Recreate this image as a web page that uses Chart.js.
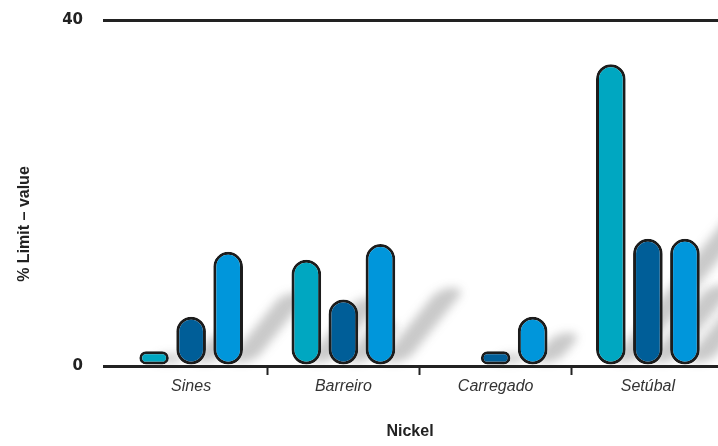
<!DOCTYPE html>
<html><head><meta charset="utf-8">
<script src="https://cdn.jsdelivr.net/npm/chart.js@4"></script>
<style>
html,body{margin:0;padding:0;background:#fff;overflow:hidden;width:718px;height:446px;}
#wrap{position:relative;width:724px;height:446px;}
</style></head>
<body><div id="wrap"><canvas id="c"></canvas></div>
<script>
const categories = ['Sines', 'Barreiro', 'Carregado', 'Setúbal'];
const seriesA = [1.7, 12.3, null, 34.9];
const seriesB = [5.7, 7.7, 1.7, 14.7];
const seriesC = [13.2, 14.1, 5.7, 14.7];
const yTicks = [0, 40];
const yTitle = '% Limit – value';
const xTitle = 'Nickel';

const colors = ['#00a7c1', '#005e98', '#0096db'];

const shadowPlugin = {
  id: 'barShadows',
  beforeDatasetsDraw(chart) {
    const ctx = chart.ctx;
    ctx.save();
    ctx.filter = 'blur(5px)';
    chart.data.datasets.forEach((ds, i) => {
      const meta = chart.getDatasetMeta(i);
      meta.data.forEach(bar => {
        const p = bar.getProps(['x', 'y', 'base', 'width'], true);
        if (p.y == null || isNaN(p.y)) return;
        const h = p.base - p.y;
        if (h <= 0) return;
        const w = p.width * 0.9;
        ctx.setTransform(1, 0, -0.5, 0.62, p.x + 12, p.base - 2);
        const r = Math.min(w / 2, h / 2);
        ctx.beginPath();
        ctx.roundRect(-w / 2, -h, w, h, r);
        ctx.fillStyle = 'rgba(60,60,60,0.28)';
        ctx.fill();
      });
    });
    ctx.restore();
  }
};

const titlesPlugin = {
  id: 'axisTitles',
  afterDraw(chart) {
    const ctx = chart.ctx;
    ctx.save();
    ctx.font = 'bold 16px "Liberation Sans"';
    ctx.fillStyle = '#222';
    ctx.textAlign = 'center';
    ctx.textBaseline = 'middle';
    ctx.fillText(xTitle, 410, 432);
    ctx.translate(25, 224);
    ctx.rotate(-Math.PI / 2);
    ctx.fillText(yTitle, 0, 0);
    ctx.restore();
  }
};

new Chart(document.getElementById('c'), {
  type: 'bar',
  data: {
    labels: categories,
    datasets: [seriesA, seriesB, seriesC].map((d, i) => ({
      data: d,
      backgroundColor: colors[i],
      borderColor: '#1c1c1c',
      borderWidth: 3,
      borderRadius: 100,
      borderSkipped: false,
      barPercentage: 0.8,
      categoryPercentage: 0.73
    }))
  },
  options: {
    responsive: true,
    maintainAspectRatio: false,
    animation: false,
    devicePixelRatio: 1,
    layout: { padding: { top: 0, right: 0, bottom: 0, left: 0 } },
    plugins: { legend: { display: false }, tooltip: { enabled: false } },
    scales: {
      x: {
        afterFit: (s) => { s.height = 80; },
        border: { display: false },
        grid: {
          drawOnChartArea: false,
          drawTicks: true,
          tickLength: 9,
          tickWidth: 2,
          tickColor: (c) => (c.index === 0 ? 'rgba(0,0,0,0)' : '#222')
        },
        ticks: {
          color: '#333',
          padding: 2,
          font: { family: 'Liberation Sans', size: 16, style: 'italic' }
        },
        title: { display: false }
      },
      y: {
        min: 0,
        max: 40,
        afterBuildTicks: (s) => { s.ticks = yTicks.map(v => ({ value: v })); },
        afterFit: (s) => { s.width = 115; },
        border: { display: false },
        grid: {
          color: '#222',
          lineWidth: 3,
          drawTicks: true,
          tickLength: 12,
          tickColor: '#222',
          tickWidth: 3
        },
        ticks: {
          color: '#222',
          padding: 20,
          font: { family: 'DejaVu Sans', size: 15, weight: 'bold', lineHeight: 0.01 }
        },
        title: { display: false }
      }
    }
  },
  plugins: [shadowPlugin, titlesPlugin]
});
</script>
</body></html>
